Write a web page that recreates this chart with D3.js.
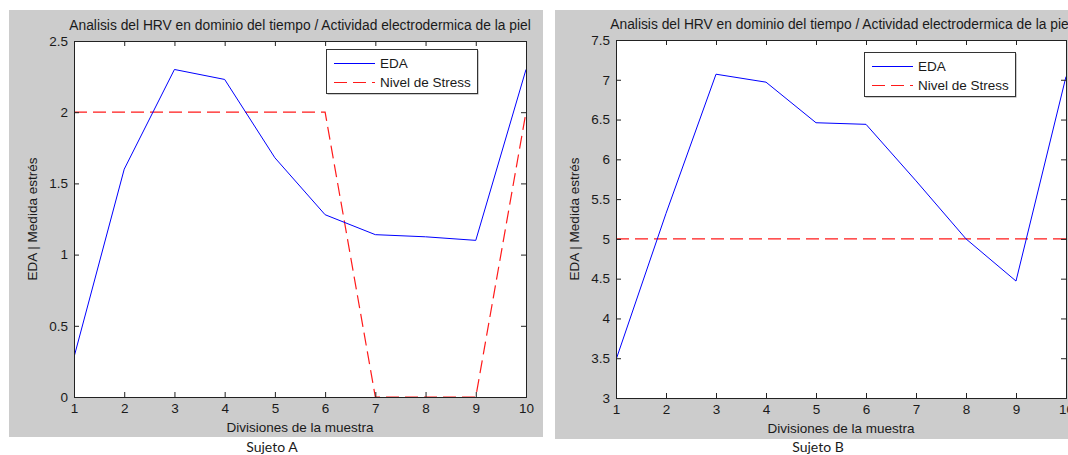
<!DOCTYPE html>
<html lang="es">
<head>
    <title>EDA - Sujeto A / Sujeto B</title>
    <meta charset="UTF-8">
    <script type="text/javascript" src="https://cdn.jsdelivr.net/npm/d3@7/dist/d3.min.js"></script>
    <style>
        body { margin: 0; background: #fff; }
        svg { display: block; }
        text { font-family: "Liberation Sans", Arial, sans-serif; fill: #1a1a1a; }
        .caption { font-family: Lato, "Open Sans", sans-serif; font-size: 14px; }
    </style>
</head>
<body>
<svg id="chart" width="1068" height="455"></svg>
<script type="text/javascript">

    // divisiones de la muestra (x)
    var divisiones = [1, 2, 3, 4, 5, 6, 7, 8, 9, 10];

    // Sujeto A
    var edaA = [0.28, 1.6, 2.3, 2.23, 1.68, 1.28, 1.14, 1.125, 1.1, 2.3];
    var stressA = [2, 2, 2, 2, 2, 2, 0, 0, 0, 2];
    var yTicksA = [0, 0.5, 1, 1.5, 2, 2.5];

    // Sujeto B
    var edaB = [3.48, 5.32, 7.07, 6.97, 6.46, 6.44, 5.73, 5.0, 4.47, 7.04];
    var stressB = [5, 5, 5, 5, 5, 5, 5, 5, 5, 5];
    var yTicksB = [3, 3.5, 4, 4.5, 5, 5.5, 6, 6.5, 7, 7.5];

    var titulo = 'Analisis del HRV en dominio del tiempo / Actividad electrodermica de la piel';
    var xLabel = 'Divisiones de la muestra';
    var yLabel = 'EDA | Medida estrés';
    var series = ['EDA', 'Nivel de Stress'];

    var svg = d3.select('#chart');

    function drawPanel(cfg) {
        // gray figure background
        svg.append('rect')
            .attr('x', cfg.bg[0]).attr('y', cfg.bg[1])
            .attr('width', cfg.bg[2]).attr('height', cfg.bg[3])
            .attr('fill', '#cccccc');

        var x = d3.scaleLinear().domain([1, 10]).range([cfg.left, cfg.right]);
        var y = d3.scaleLinear().domain(cfg.yDomain).range([cfg.bottom, cfg.top]);

        var g = svg.append('g');

        g.append('rect')
            .attr('x', cfg.left).attr('y', cfg.top)
            .attr('width', cfg.right - cfg.left).attr('height', cfg.bottom - cfg.top)
            .attr('fill', '#fff');

        // clip so the lines stay inside the axes box
        var clipId = 'clip' + cfg.id;
        svg.append('clipPath').attr('id', clipId).append('rect')
            .attr('x', cfg.left).attr('y', cfg.top - 1)
            .attr('width', cfg.right - cfg.left).attr('height', cfg.bottom - cfg.top + 2);

        var line = d3.line().x((d, i) => x(divisiones[i])).y(d => y(d));

        g.append('path').datum(cfg.stress)
            .attr('clip-path', 'url(#' + clipId + ')')
            .attr('d', line)
            .attr('fill', 'none')
            .attr('stroke', '#ff1a1a')
            .attr('stroke-width', 1.2)
            .attr('stroke-dasharray', '13,6');

        g.append('path').datum(cfg.eda)
            .attr('clip-path', 'url(#' + clipId + ')')
            .attr('d', line)
            .attr('fill', 'none')
            .attr('stroke', '#0000ff')
            .attr('stroke-width', 1);

        // axes, matlab style: ticks pointing inward, box on
        var tl = 5;
        g.append('g').attr('transform', `translate(0,${cfg.bottom})`)
            .call(d3.axisBottom(x).tickValues(divisiones).tickSize(-tl).tickPadding(6).tickFormat(d3.format('d')));
        g.append('g').attr('transform', `translate(0,${cfg.top})`)
            .call(d3.axisTop(x).tickValues(divisiones).tickSize(-tl).tickFormat(''));
        g.append('g').attr('transform', `translate(${cfg.left},0)`)
            .call(d3.axisLeft(y).tickValues(cfg.yTicks).tickSize(-tl).tickPadding(6).tickFormat(d => String(d)));
        g.append('g').attr('transform', `translate(${cfg.right},0)`)
            .call(d3.axisRight(y).tickValues(cfg.yTicks).tickSize(-tl).tickFormat(''));

        g.selectAll('.domain').attr('stroke', '#222').attr('stroke-width', 1);
        g.selectAll('.tick line').attr('stroke', '#222');
        g.selectAll('.tick text').style('font-size', '13.5px').attr('fill', '#1a1a1a');

        // title and labels
        svg.append('text')
            .attr('x', (cfg.left + cfg.right) / 2).attr('y', cfg.top - 11)
            .attr('text-anchor', 'middle')
            .style('font-size', '13.8px')
            .text(titulo);

        svg.append('text')
            .attr('x', (cfg.left + cfg.right) / 2).attr('y', cfg.bottom + 35)
            .attr('text-anchor', 'middle')
            .style('font-size', '13.5px')
            .text(xLabel);

        svg.append('text')
            .attr('transform', `translate(${cfg.left - 37},${(cfg.top + cfg.bottom) / 2}) rotate(-90)`)
            .attr('text-anchor', 'middle')
            .style('font-size', '13.5px')
            .text(yLabel);

        // legend
        var lg = svg.append('g').attr('transform', `translate(${cfg.legend[0]},${cfg.legend[1]})`);
        lg.append('rect')
            .attr('x', 1.5).attr('y', 1.5).attr('width', 151).attr('height', 44)
            .attr('fill', '#999');
        lg.append('rect')
            .attr('x', 0.5).attr('y', 0.5).attr('width', 151).attr('height', 44)
            .attr('fill', '#fff').attr('stroke', '#333');
        var rows = lg.selectAll('g.row').data(series).join('g')
            .attr('class', 'row')
            .attr('transform', (d, i) => `translate(0,${14.5 + i * 19})`);
        rows.append('line')
            .attr('x1', 8).attr('x2', 49).attr('y1', 0).attr('y2', 0)
            .attr('stroke', (d, i) => i === 0 ? '#0000ff' : '#ff1a1a')
            .attr('stroke-dasharray', (d, i) => i === 0 ? null : '13,6');
        rows.append('text')
            .attr('x', 54).attr('y', 4.5)
            .style('font-size', '13.5px')
            .text(d => d);

        svg.append('text')
            .attr('class', 'caption')
            .attr('x', cfg.caption[0]).attr('y', cfg.caption[1])
            .attr('text-anchor', 'middle')
            .text(cfg.captionText);
    }

    drawPanel({
        id: 'A', bg: [9, 10, 534, 427],
        left: 74, right: 526, top: 41, bottom: 397,
        yDomain: [0, 2.5], yTicks: yTicksA,
        eda: edaA, stress: stressA,
        legend: [326, 49], caption: [272, 452], captionText: 'Sujeto A'
    });

    drawPanel({
        id: 'B', bg: [555, 10, 520, 429],
        left: 616, right: 1066, top: 40, bottom: 398,
        yDomain: [3, 7.5], yTicks: yTicksB,
        eda: edaB, stress: stressB,
        legend: [864, 52], caption: [818, 452], captionText: 'Sujeto B'
    });

</script>
</body>
</html>
